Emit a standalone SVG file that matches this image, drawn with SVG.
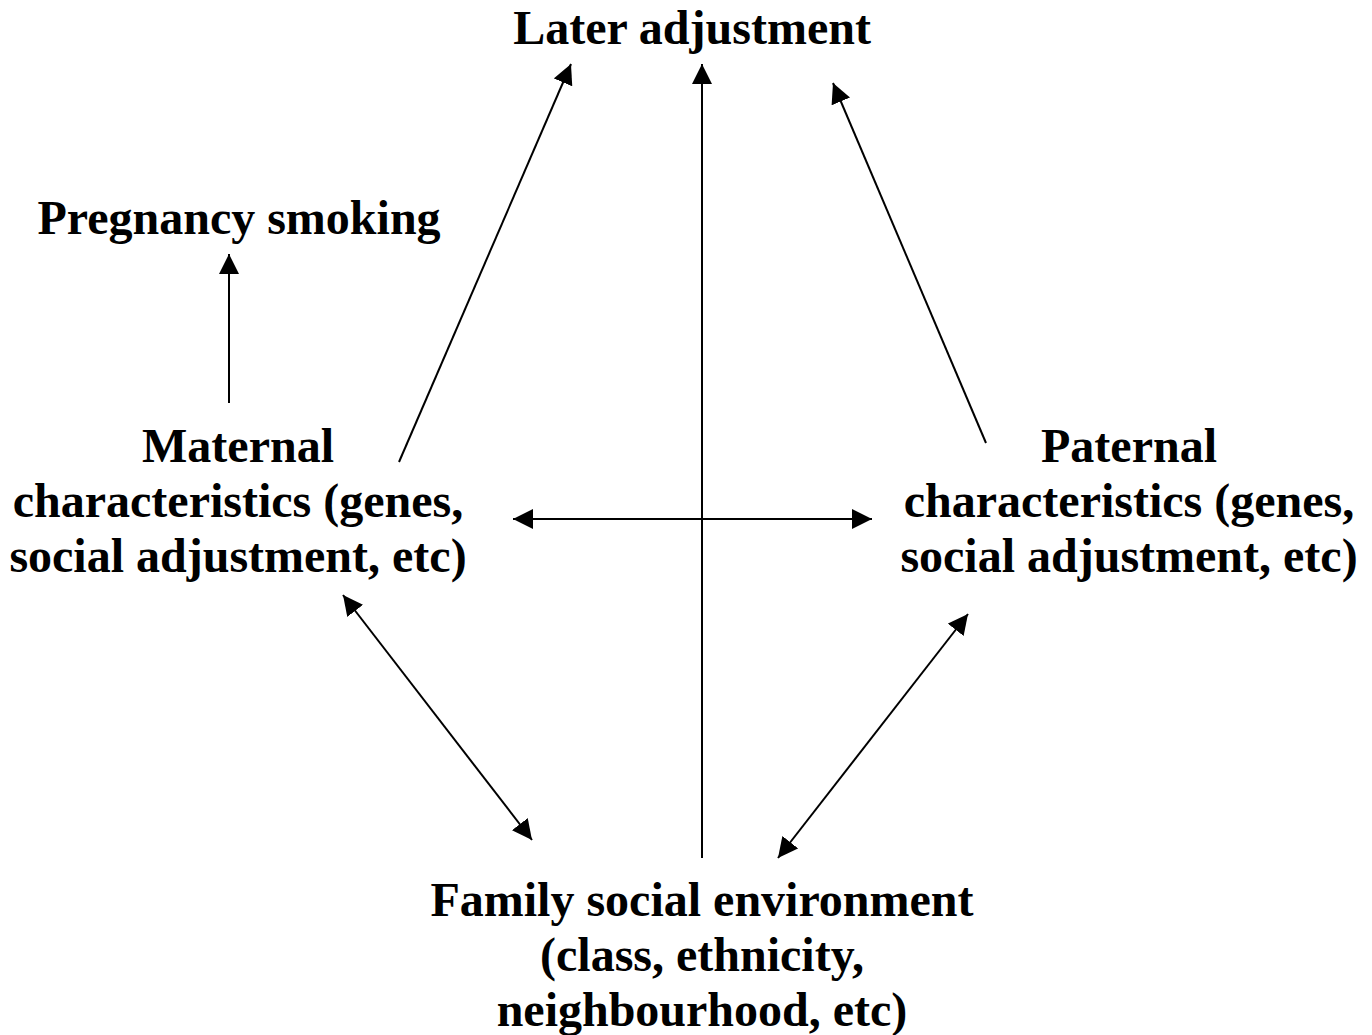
<svg xmlns="http://www.w3.org/2000/svg" width="1372" height="1035" viewBox="0 0 1372 1035">
<style>
text{font-family:"Liberation Serif","Times New Roman",serif;font-weight:bold;font-size:48px;fill:#000;text-anchor:middle}
.c{stroke:#000;stroke-width:2;fill:none}
</style>
<defs>
<marker id="ah" viewBox="0 0 20 20" refX="20" refY="10" markerWidth="20" markerHeight="20" markerUnits="userSpaceOnUse" orient="auto-start-reverse">
<path d="M0,0 L20,10 L0,20 Z" fill="#000"/>
</marker>
</defs>
<rect width="1372" height="1035" fill="#fff"/>
<g id="connectors">
<line class="c" x1="229" y1="403" x2="229" y2="254" marker-end="url(#ah)"/>
<line class="c" x1="399" y1="462" x2="571" y2="64" marker-end="url(#ah)"/>
<line class="c" x1="702" y1="858" x2="702" y2="64" marker-end="url(#ah)"/>
<line class="c" x1="986" y1="443" x2="833" y2="83" marker-end="url(#ah)"/>
<line class="c" x1="513" y1="519" x2="872" y2="519" marker-start="url(#ah)" marker-end="url(#ah)"/>
<line class="c" x1="343" y1="595" x2="532" y2="840" marker-start="url(#ah)" marker-end="url(#ah)"/>
<line class="c" x1="968" y1="614" x2="778" y2="858" marker-start="url(#ah)" marker-end="url(#ah)"/>
</g>
<g id="later"><text x="692" y="44">Later adjustment</text></g>
<g id="smoking"><text x="239" y="234">Pregnancy smoking</text></g>
<g id="maternal">
<text x="238" y="462">Maternal</text>
<text x="238" y="517">characteristics (genes,</text>
<text x="238" y="572">social adjustment, etc)</text>
</g>
<g id="paternal">
<text x="1129" y="462">Paternal</text>
<text x="1129" y="517">characteristics (genes,</text>
<text x="1129" y="572">social adjustment, etc)</text>
</g>
<g id="family">
<text x="702" y="916">Family social environment</text>
<text x="702" y="971">(class, ethnicity,</text>
<text x="702" y="1026">neighbourhood, etc)</text>
</g>
</svg>
